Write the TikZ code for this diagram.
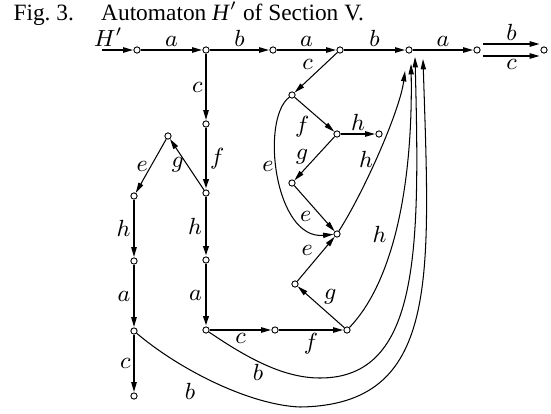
\documentclass[tikz,border=0pt]{standalone}
\usepackage{fontspec}
\setmainfont{Liberation Serif}
\usepackage{tikz}
\usetikzlibrary{arrows.meta}
\tikzset{
  qnode/.style={circle, draw, fill=white, inner sep=0pt, minimum size=2.4pt, line width=0.35pt},
  arr/.style={-{Triangle[length=4pt,width=2pt]}, line width=#1},
  arr/.default=0.4pt,
}

\begin{document}
\begin{tikzpicture}[x=0.385pt, y=-0.385pt, every node/.style={font=\fontsize{9}{10}\selectfont, inner sep=1pt}]
        \useasboundingbox (0,0) rectangle (551,413);

        % Caption
        \node[anchor=base west, inner sep=0pt, font=\fontsize{9}{10}\selectfont] (cap) at (13,20)
              {Fig.~3.\hspace{10.5pt}Automaton \textit{H}$'$ of Section V.};

        % States, top row
        \coordinate (in) at (102,50);
        \node[qnode] (n1) at (137,50) {};
        \node[qnode] (n2) at (206,50) {};
        \node[qnode] (n3) at (273,50) {};
        \node[qnode] (n4) at (340,50) {};
        \node[qnode] (n5) at (409,50) {};
        \node[qnode] (n6) at (477,50) {};
        \node[qnode] (n7) at (544,50) {};

        % States, middle column
        \node[qnode] (v1) at (206,124) {};
        \node[qnode] (v2) at (206,193) {};
        \node[qnode] (v3) at (206,260) {};
        \node[qnode] (v4) at (206,330) {};
        \node[qnode] (v5) at (275,330) {};
        \node[qnode] (v6) at (347,330) {};

        % States, left column
        \node[qnode] (w1) at (168,136) {};
        \node[qnode] (w2) at (134,196) {};
        \node[qnode] (w3) at (134,261) {};
        \node[qnode] (w4) at (134,331) {};
        \node[qnode] (w5) at (134,396) {};

        % States, right part
        \node[qnode] (r1) at (292,95) {};
        \node[qnode] (r2) at (337,134) {};
        \node[qnode] (r3) at (379,134) {};
        \node[qnode] (r4) at (292,183) {};
        \node[qnode] (r5) at (337,234) {};
        \node[qnode] (r6) at (295,284) {};

        % Top row
        \draw[arr=0.75pt] (in) -- (n1) node[pos=0.2,above]{$H'$};
        \draw[arr=0.75pt] (n1) -- (n2) node[midway,above]{$a$};
        \draw[arr=0.75pt] (n2) -- (n3) node[midway,above]{$b$};
        \draw[arr=0.75pt] (n3) -- (n4) node[midway,above]{$a$};
        \draw[arr=0.75pt] (n4) -- (n5) node[midway,above]{$b$};
        \draw[arr=0.75pt] (n5) -- (n6) node[midway,above]{$a$};
        \draw[arr=0.75pt] ([shift={(6,-6)}]n6.center) -- ([shift={(-4,-6)}]n7.center)
              node[midway,above]{$b$};
        \draw[arr=0.75pt] ([shift={(6,6)}]n6.center) -- ([shift={(-4,6)}]n7.center)
              node[midway,below]{$c$};

        % Middle column
        \draw[arr=0.75pt] (n2) -- (v1) node[midway,left]{$c$};
        \draw[arr=1.15pt] (v1) -- (v2) node[midway,right]{$f$};
        \draw[arr=1.15pt] (v2) -- (v3) node[midway,left]{$h$};
        \draw[arr=1.15pt] (v3) -- (v4) node[midway,left]{$a$};
        \draw[arr=0.75pt] (v4) -- (v5) node[midway,below]{$c$};
        \draw[arr=0.75pt] (v5) -- (v6) node[midway,below]{$f$};

        % Left column
        \draw[arr] (v2) -- (w1) node[midway,left]{$g$};
        \draw[arr] (w1) -- (w2) node[midway,left]{$e$};
        \draw[arr=0.75pt] (w2) -- (w3) node[midway,left]{$h$};
        \draw[arr=0.75pt] (w3) -- (w4) node[midway,left]{$a$};
        \draw[arr=0.75pt] (w4) -- (w5) node[midway,left]{$c$};

        % Right part
        \draw[arr] (n4) -- (r1) node[midway,above left]{$c$};
        \draw[arr] (r1) -- (r2) node[pos=0.45,below left]{$f$};
        \draw[arr=0.75pt] (r2) -- (r3) node[midway,above]{$h$};
        \draw[arr] (r2) -- (r4) node[pos=0.45,left=2pt]{$g$};
        \draw[arr] (r4) -- (r5) node[midway,below left]{$e$};
        \draw[arr] (r6) -- (r5) node[midway,above left]{$e$};
        \draw[arr] (v6) -- (r6) node[midway,above right]{$g$};
        \draw[arr] (r1) .. controls (260,120) and (275,240) .. (r5)
              node[pos=0.45,left]{$e$};

        % Back to the top
        \draw[arr] (r5) .. controls (365,190) and (400,110) .. ([shift={(-4,21)}]n5.center)
              node[pos=0.45,left]{$h$};
        \draw[arr] (v6) .. controls (395,280) and (413,180) .. ([shift={(2,14)}]n5.center)
              node[pos=0.45,left=2pt]{$h$};
        \draw[arr] (v4) .. controls (250,360) and (285,378) .. (320,378)
              node[pos=0.42,below]{$b$}
              .. controls (420,378) and (420,250) .. ([shift={(6,7)}]n5.center);
        \draw[arr] (w4) .. controls (180,370) and (250,405) .. (300,407)
              node[pos=0.35,below=4pt]{$b$}
              .. controls (440,405) and (430,280) .. ([shift={(14,9)}]n5.center);
      \end{tikzpicture}
\end{document}
